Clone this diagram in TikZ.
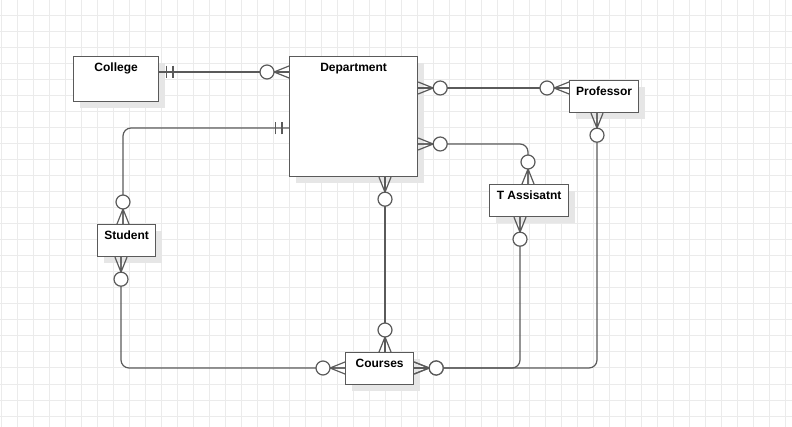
\documentclass[tikz,border=0pt]{standalone}
\usepackage{fontspec}
\setmainfont{Liberation Sans}
\usetikzlibrary{calc,shadows,decorations.markings}

\definecolor{linegray}{HTML}{5A5A5A}
\definecolor{gridgray}{HTML}{EBEBEB}
\definecolor{shadowgray}{HTML}{E6E6E6}

% ER end markers, drawn with the entity edge at the origin
\newcommand{\zeromany}{%
  \draw[linegray, line width=0.9pt] (-11.25pt,0) -- (0,4.5pt) (-11.25pt,0) -- (0,-4.5pt) (-11.25pt,0) -- (0,0);
  \draw[linegray, line width=0.9pt, fill=white] (-16.5pt,0) circle[radius=5.25pt];}
\newcommand{\onlyone}{%
  \draw[linegray, line width=1pt] (-5.25pt,-4.75pt) -- (-5.25pt,4.75pt) (-10.25pt,-4.75pt) -- (-10.25pt,4.75pt);}

\begin{document}
\begin{tikzpicture}[x=0.75pt, y=-0.75pt]
    \tikzstyle{gridline} = [gridgray, line width=0.75pt]
    \tikzstyle{entity} = [draw=linegray, fill=white, line width=0.9pt, anchor=north west, inner sep=0pt,
        font=\bfseries\fontsize{9}{10}\selectfont, text height=11.5pt,
        drop shadow={shadow xshift=5pt, shadow yshift=-5pt, fill=shadowgray, opacity=1}]
    \tikzstyle{erline} = [linegray, line width=0.9pt, rounded corners=6pt]
    \tikzset{
        zeromany end/.style={postaction={draw=none, decorate, decoration={markings, mark=at position 1 with {\zeromany}}}},
        zeromany start/.style={postaction={draw=none, decorate, decoration={markings, mark=at position 0 with {\begin{scope}[rotate=180]\zeromany\end{scope}}}}},
        onlyone start/.style={postaction={draw=none, decorate, decoration={markings, mark=at position 0 with {\begin{scope}[rotate=180]\onlyone\end{scope}}}}}
    }

    \useasboundingbox (0,0) rectangle (792,427);

    % Raster
    \foreach \gx in {1,17,...,785} \draw[gridline] (\gx,0) -- (\gx,427);
    \foreach \gy in {0,16,...,416} \draw[gridline] (0,\gy) -- (792,\gy);

    % Entitaeten
    \node[entity, minimum width=63.75pt, text depth=22.25pt] (college) at (73,56) {College};
    \node[entity, minimum width=96pt, text depth=78.5pt] (dept) at (289,56) {Department};
    \node[entity, minimum width=51.75pt, text depth=12.5pt] (prof) at (569,80) {Professor};
    \node[entity, minimum width=59.25pt, text depth=12.5pt] (ta) at (489,184) {T Assisatnt};
    \node[entity, minimum width=43.5pt, text depth=12.5pt] (stu) at (97,224) {Student};
    \node[entity, minimum width=51pt, text depth=12.5pt] (courses) at (345,352) {Courses};

    % Beziehungen
    \draw[erline, onlyone start, zeromany end] ($(college.north east)+(0,16)$) -- ($(dept.north west)+(0,16)$);
    \draw[erline, onlyone start, zeromany end] ($(dept.north west)+(0,72)$) -| ($(stu.north west)+(26,0)$);
    \draw[erline, zeromany start, zeromany end] ($(dept.north east)+(0,32)$) -- ($(prof.north west)+(0,8)$);
    \draw[erline, zeromany start, zeromany end] ($(dept.north east)+(0,88)$) -| ($(ta.north west)+(39,0)$);
    \draw[erline, zeromany start, zeromany end] ($(dept.south west)+(96,0)$) -- ($(courses.north west)+(40,0)$);

    \draw[erline, zeromany start, zeromany end] ($(stu.south west)+(24,0)$) |- ($(courses.north west)+(0,16)$);
    \draw[erline, zeromany start, zeromany end] ($(ta.south west)+(31,0)$) |- ($(courses.north east)+(0,16)$);
    \draw[erline, zeromany start, zeromany end] ($(prof.south west)+(28,0)$) |- ($(courses.north east)+(0,16)$);
\end{tikzpicture}
\end{document}
